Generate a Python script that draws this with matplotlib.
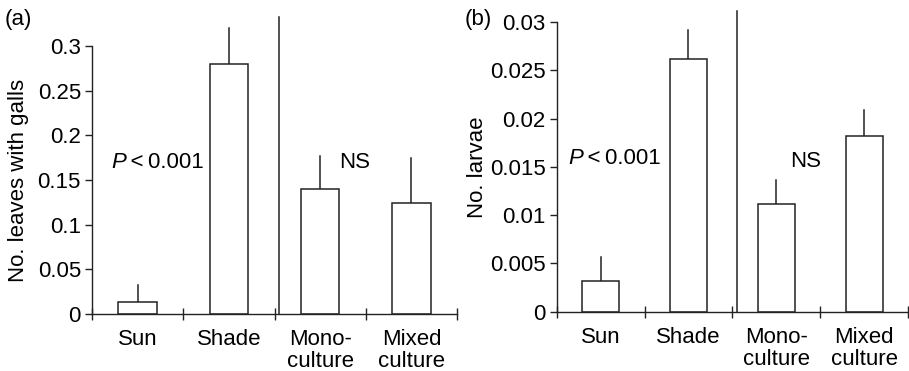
import matplotlib
matplotlib.use("Agg")
import matplotlib.pyplot as plt
import numpy as np

plt.rcParams['font.family'] = ['Liberation Sans', 'DejaVu Sans']

categories = ["Sun", "Shade", "Mono-\nculture", "Mixed\nculture"]

# Panel (a): leaves with galls
galls_mean = [0.0134, 0.280, 0.140, 0.1247]
galls_err = [0.019, 0.040, 0.037, 0.050]
galls_ticks = [0, 0.05, 0.1, 0.15, 0.2, 0.25, 0.3]
galls_ticklabels = ["0", "0.05", "0.1", "0.15", "0.2", "0.25", "0.3"]

# Panel (b): larvae
larvae_mean = [0.0032, 0.0262, 0.01115, 0.0182]
larvae_err = [0.0025, 0.0030, 0.0025, 0.0027]
larvae_ticks = [0, 0.005, 0.01, 0.015, 0.02, 0.025, 0.03]
larvae_ticklabels = ["0", "0.005", "0.01", "0.015", "0.02", "0.025", "0.03"]

FS = 16
LC = "#222222"

fig = plt.figure(figsize=(9.09, 3.71), dpi=100)
ax_a = fig.add_axes([92/909, 1 - 314/371, (457 - 92)/909, (314 - 46)/371])
ax_b = fig.add_axes([556.7/909, 1 - 311.7/371, (908 - 556.7)/909, (311.7 - 22)/371])


def draw_panel(ax, means, errs, ticks, ticklabels, ymax, ylabel, divider_top,
               p_x, p_y, ns_x, ns_y, labelpad):
    x = np.arange(len(categories))
    ax.bar(x, means, width=0.42, color="white", edgecolor=LC, linewidth=1.1,
           zorder=2)
    for xi, m, e in zip(x, means, errs):
        ax.plot([xi, xi], [m, m + e], color=LC, linewidth=1.1, zorder=1,
                clip_on=False)
    ax.set_xlim(-0.5, len(categories) - 0.5)
    ax.set_ylim(0, ymax)
    ax.set_yticks(ticks)
    ax.set_yticklabels(ticklabels, fontsize=FS)
    ax.set_xticks(np.arange(len(categories) + 1) - 0.5)
    ax.set_xticklabels([])
    ax.set_xticks(x, minor=True)
    ax.set_xticklabels(categories, minor=True, fontsize=FS, linespacing=1.05)
    ax.tick_params(axis="x", which="minor", length=0, pad=11)
    ax.tick_params(axis="x", which="major", direction="inout", length=8,
                   width=1.0, color=LC)
    ax.tick_params(axis="y", direction="out", length=5, width=1.0, color=LC,
                   pad=3)
    for s in ("top", "right"):
        ax.spines[s].set_visible(False)
    for s in ("left", "bottom"):
        ax.spines[s].set_color(LC)
        ax.spines[s].set_linewidth(1.0)
    ax.set_ylabel(ylabel, fontsize=FS, labelpad=labelpad)
    # vertical divider between the two contrasts
    ax.plot([1.55, 1.55], [0, divider_top], color=LC, linewidth=1.1,
            clip_on=False)
    ax.text(p_x, p_y, "P", fontsize=FS, style="italic", ha="right",
            va="center")
    ax.text(p_x, p_y, "\u2009<\u20090.001", fontsize=FS, ha="left",
            va="center")
    ax.text(ns_x, ns_y, "NS", fontsize=FS, ha="center", va="center")


draw_panel(ax_a, galls_mean, galls_err, galls_ticks, galls_ticklabels, 0.3,
           "No. leaves with galls", 0.3326, -0.13, 0.170, 2.38, 0.170, 6)
draw_panel(ax_b, larvae_mean, larvae_err, larvae_ticks, larvae_ticklabels,
           0.03, "No. larvae", 0.0311, -0.2, 0.0159, 2.33, 0.0156, 1)

fig.text(5/909, 1 - 20/371, "(a)", fontsize=FS, ha="left", va="center")
fig.text(465/909, 1 - 20/371, "(b)", fontsize=FS, ha="left", va="center")

fig.savefig("out.png", dpi=100, facecolor="white")
